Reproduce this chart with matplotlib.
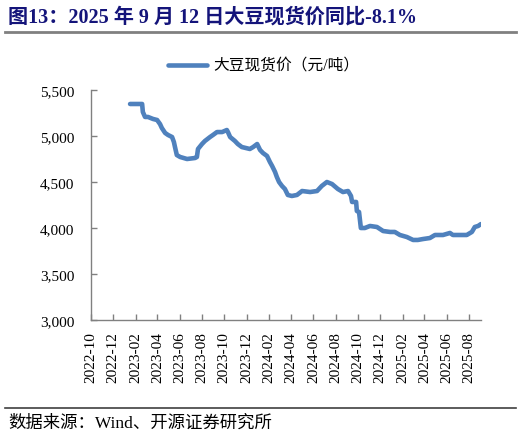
import matplotlib
matplotlib.use("Agg")
import matplotlib.pyplot as plt
import pandas as pd

plt.rcParams['font.family'] = ['Liberation Serif', 'Noto Sans CJK SC', 'DejaVu Sans']

dates = ["2023-01-16", "2023-02-18", "2023-02-20", "2023-02-26", "2023-03-06", "2023-03-20",
         "2023-03-31", "2023-04-08", "2023-04-13", "2023-04-22", "2023-04-30", "2023-05-11",
         "2023-05-16", "2023-05-19", "2023-05-24", "2023-06-02", "2023-06-21", "2023-07-13",
         "2023-07-18", "2023-07-21", "2023-08-01", "2023-08-09", "2023-08-23", "2023-08-31",
         "2023-09-11", "2023-09-25", "2023-10-08", "2023-10-11", "2023-10-17", "2023-10-30",
         "2023-11-07", "2023-11-18", "2023-12-10", "2023-12-19", "2023-12-30", "2024-01-07",
         "2024-01-15", "2024-01-26", "2024-02-03", "2024-02-09", "2024-02-17", "2024-02-22",
         "2024-02-28", "2024-03-07", "2024-03-15", "2024-03-23", "2024-04-03", "2024-04-17",
         "2024-05-01", "2024-05-23", "2024-06-11", "2024-06-24", "2024-07-08", "2024-07-22",
         "2024-08-07", "2024-08-21", "2024-09-04", "2024-09-12", "2024-09-15", "2024-09-26",
         "2024-09-28", "2024-10-04", "2024-10-09", "2024-10-20", "2024-11-03", "2024-11-22",
         "2024-12-09", "2024-12-28", "2025-01-10", "2025-01-24", "2025-02-12", "2025-03-01",
         "2025-03-14", "2025-03-28", "2025-04-16", "2025-04-30", "2025-05-22", "2025-06-10",
         "2025-06-18", "2025-07-26", "2025-08-09", "2025-08-17", "2025-08-26", "2025-09-03"]

prices = [5348, 5348, 5261, 5207, 5207, 5185,
          5174, 5130, 5087, 5033, 5011, 4989,
          4935, 4880, 4793, 4772, 4750, 4761,
          4772, 4859, 4913, 4946, 4989, 5011,
          5043, 5043, 5065, 5043, 4989, 4946,
          4913, 4880, 4859, 4880, 4913, 4848,
          4815, 4783, 4717, 4674, 4609, 4554,
          4500, 4457, 4424, 4359, 4348, 4359,
          4402, 4391, 4402, 4457, 4500, 4478,
          4424, 4391, 4402, 4348, 4283, 4283,
          4185, 4174, 4000, 4000, 4022, 4011,
          3967, 3957, 3957, 3924, 3902, 3870,
          3870, 3880, 3891, 3924, 3924, 3946,
          3924, 3924, 3957, 4011, 4022, 4043]

series_label = "大豆现货价（元/吨）"
title = "图13：2025 年 9 月 12 日大豆现货价同比-8.1%"
source = "数据来源：Wind、开源证券研究所"
yticks = [3000, 3500, 4000, 4500, 5000, 5500]

x = pd.to_datetime(dates)

W, H = 522, 439
fig = plt.figure(figsize=(W / 100, H / 100), dpi=100)
ax = fig.add_axes([91 / W, 1 - 321 / H, (481 - 91) / W, (321 - 91) / H])

line_color = "#4F81BD"
ax.plot(x, prices, color=line_color, lw=3.3, solid_capstyle='round', solid_joinstyle='round')

ax.set_ylim(3000, 5500)
ax.set_yticks(yticks)
ax.set_yticklabels([f"{v:,}" for v in yticks])
ax.set_xlim(pd.Timestamp("2022-10-01"), x[-1])

tick_dates = pd.date_range("2022-10-01", "2025-08-01", freq="2MS")
ax.set_xticks(tick_dates)
ax.set_xticklabels([d.strftime("%Y-%m") for d in tick_dates], rotation=90)

for s in ["top", "right"]:
    ax.spines[s].set_visible(False)
for s in ["left", "bottom"]:
    ax.spines[s].set_color("#808080")
    ax.spines[s].set_linewidth(1.0)

ax.tick_params(axis='both', direction='in', color="#808080", length=4, width=1,
               labelsize=11, labelcolor="black")
ax.tick_params(axis='y', pad=12)
ax.tick_params(axis='x', pad=8)

# Title
fig.text(8 / W, 1 - 18 / H, title, fontsize=14.5, fontweight='bold', color="#14147A",
         ha='left', va='center')
fig.add_artist(plt.Line2D([5 / W, 516 / W], [1 - 33 / H, 1 - 33 / H], color="#808080", lw=2))

# Legend
fig.add_artist(plt.Line2D([168 / W, 207 / W], [1 - 66 / H, 1 - 66 / H], color=line_color, lw=3.3,
                          solid_capstyle='round'))
fig.text(213 / W, 1 - 66 / H, series_label, fontsize=11.3, ha='left', va='center', color="black")

# Source
fig.add_artist(plt.Line2D([5 / W, 516 / W], [1 - 409 / H, 1 - 409 / H], color="#404040", lw=1.2))
fig.text(8 / W, 1 - 424 / H, source, fontsize=12.5, ha='left', va='center', color="black")

fig.savefig("out.png", dpi=100)
